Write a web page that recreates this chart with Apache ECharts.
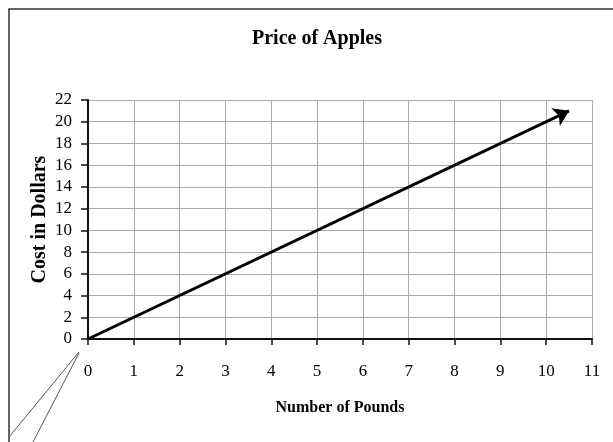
<!DOCTYPE html>
<html>
<head>
<meta charset="utf-8">
<script src="https://cdn.jsdelivr.net/npm/echarts@6/dist/echarts.min.js"></script>
<style>
  html, body { margin: 0; padding: 0; background: #fff; }
  #chart-panel { width: 613px; height: 442px; }
</style>
</head>
<body>
<div id="chart-panel"></div>
<script>
// data
var title = "Price of Apples";
var xName = "Number of Pounds";
var yName = "Cost in Dollars";
var pounds = [0, 10.5];   // start and end of the arrow
var cost = [0, 21];
var xMin = 0, xMax = 11, xStep = 1;
var yMin = 0, yMax = 22, yStep = 2;

var serif = "Liberation Serif";

var chart = echarts.init(document.getElementById("chart-panel"));

var option = {
  backgroundColor: "#fff",
  animation: false,
  title: {
    text: title,
    left: 312,
    top: 24,
    textAlign: "center",
    textStyle: { fontFamily: serif, fontWeight: "bold", fontSize: 20, color: "#000" }
  },
  grid: { left: 88, right: 21, top: 100, bottom: 103 },
  xAxis: {
    type: "value",
    min: xMin, max: xMax, interval: xStep,
    name: xName,
    nameLocation: "middle",
    nameGap: 61,
    nameMoveOverlap: false,
    nameTextStyle: { fontFamily: serif, fontWeight: "bold", fontSize: 16, color: "#000" },
    axisLine: { lineStyle: { color: "#111", width: 2 } },
    axisTick: { show: true, length: 6, lineStyle: { color: "#111", width: 1.5 } },
    axisLabel: { fontFamily: serif, fontSize: 17, color: "#000", margin: 24 },
    splitLine: { show: true, lineStyle: { color: "#aaa", width: 1 } }
  },
  yAxis: {
    type: "value",
    min: yMin, max: yMax, interval: yStep,
    name: yName,
    nameLocation: "middle",
    nameGap: 38,
    nameMoveOverlap: false,
    nameTextStyle: { fontFamily: serif, fontWeight: "bold", fontSize: 20, color: "#000" },
    axisLine: { show: true, lineStyle: { color: "#111", width: 2 } },
    axisTick: { show: true, length: 7, lineStyle: { color: "#111", width: 1.5 } },
    axisLabel: { fontFamily: serif, fontSize: 17, color: "#000", margin: 16 },
    splitLine: { show: true, lineStyle: { color: "#aaa", width: 1 } }
  },
  series: [
    {
      type: "lines",
      coordinateSystem: "cartesian2d",
      symbol: ["none", "arrow"],
      symbolSize: 15,
      lineStyle: { color: "#000", width: 3, opacity: 1 },
      data: [{ coords: [[pounds[0], cost[0]], [pounds[1], cost[1]]] }],
      z: 5
    }
  ],
  graphic: [
    // outer frame of the picture
    {
      type: "rect",
      shape: { x: 9, y: 9, width: 720, height: 520 },
      style: { fill: null, stroke: "#333", lineWidth: 1.5 },
      silent: true
    },
    // callout lines pointing to the origin
    {
      type: "line",
      shape: { x1: 79, y1: 352, x2: 9, y2: 437 },
      style: { stroke: "#555", lineWidth: 1 },
      silent: true
    },
    {
      type: "line",
      shape: { x1: 79, y1: 353, x2: 32, y2: 444 },
      style: { stroke: "#555", lineWidth: 1 },
      silent: true
    }
  ]
};

chart.setOption(option);
</script>
</body>
</html>
